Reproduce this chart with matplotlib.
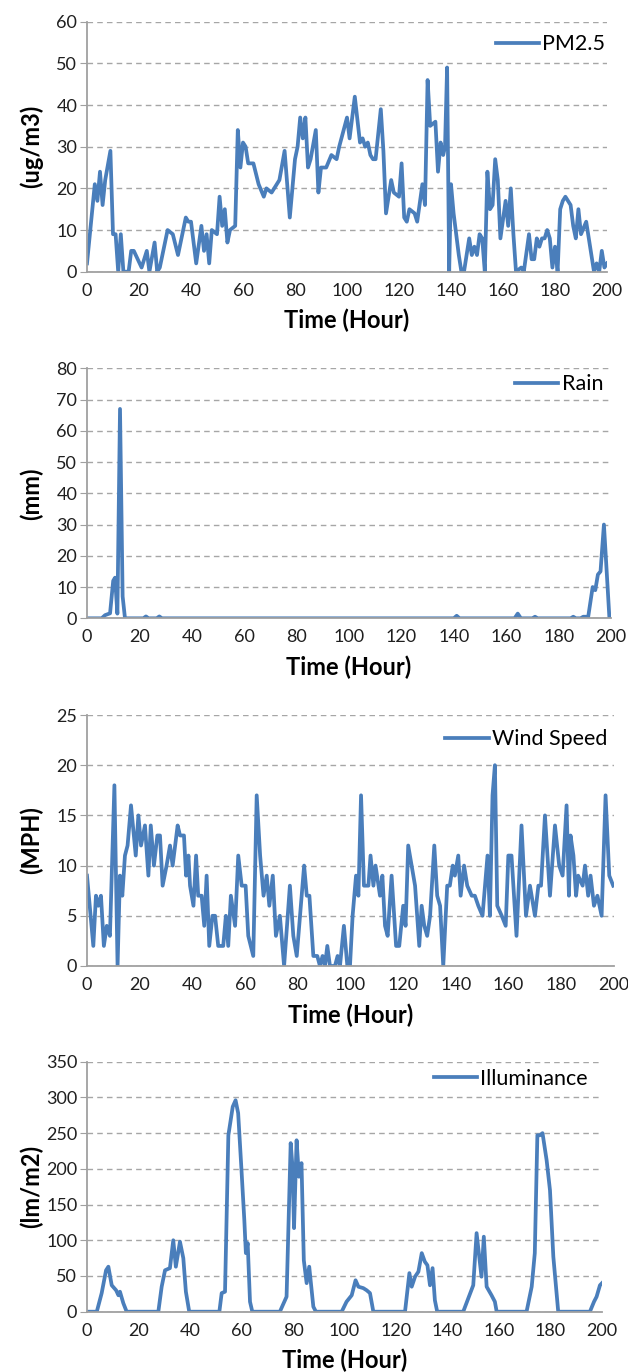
import matplotlib.pyplot as plt

plt.rcParams['font.family'] = ['Lato', 'DejaVu Sans']

# PM2.5 (ug/m3)
pm_hours = [0, 3, 4, 5, 6, 7, 9, 10, 11, 12, 13, 14, 16, 17, 18, 21, 23, 24, 26, 27, 28,
            31, 33, 35, 38, 39, 40, 42, 44, 45, 46, 47, 48, 50, 51, 52, 53, 54, 55, 57,
            58, 59, 60, 61, 62, 64, 66, 68, 69, 71, 73, 74, 76, 78, 80, 81, 82, 83, 84,
            85, 86, 88, 89, 90, 92, 94, 96, 97, 100, 101, 103, 105, 106, 107, 108, 109,
            110, 111, 113, 114, 115, 117, 118, 120, 121, 122, 123, 124, 126, 127, 129,
            130, 131, 132, 134, 135, 136, 137, 137.7, 138.5, 139.3, 140, 141, 143, 144, 145, 147,
            148, 149, 150, 151, 152, 153, 154, 155, 156, 157, 158, 159, 161, 162, 163,
            164, 165, 167, 168, 170, 171, 172, 173, 174, 175, 176, 177, 178, 179, 180,
            181, 182, 183, 184, 186, 187, 188, 189, 190, 192, 193, 195, 196, 197, 198,
            199, 200]
pm_vals = [2, 21, 17, 24, 16, 22, 29, 9, 9, 0, 9, 0, 0, 5, 5, 1, 5, 0, 7, 0, 1,
           10, 9, 4, 13, 12, 12, 2, 11, 5, 9, 2, 10, 9, 18, 11, 15, 7, 10, 11,
           34, 25, 31, 30, 26, 26, 21, 18, 20, 19, 21, 22, 29, 13, 27, 30, 37, 32, 37,
           25, 27, 34, 19, 25, 25, 28, 27, 30, 37, 32, 42, 31, 32, 30, 31, 28,
           27, 27, 39, 29, 14, 22, 19, 18, 26, 13, 12, 15, 14, 12, 21,
           16, 46, 35, 36, 24, 31, 28, 30, 49, 0, 21, 14, 4, 0, 0, 8,
           4, 6, 4, 9, 8, 0, 24, 15, 16, 27, 22, 8, 17, 11, 20,
           9, 0, 1, 0, 9, 3, 3, 8, 6, 8, 8, 10, 8, 1, 6,
           0, 15, 17, 18, 16, 11, 8, 15, 9, 12, 8, 0, 2, 0, 5,
           1, 2]

# Rain (mm)
rain_hours = [0, 5.6, 6.9, 8.8, 10.0, 10.7, 11.6, 12.6, 13.6, 14.5, 21.5, 22.5, 23.5,
              26.6, 27.6, 28.6, 140, 141.1, 142.2, 163.2, 164.4, 165.6, 170, 171, 172,
              184.6, 185.6, 186.6, 188.4, 189.4, 191.3, 193, 194, 195, 196, 197.3,
              199.4, 200]
rain_vals = [0, 0, 1, 1.6, 12, 13, 1.5, 67, 7, 0, 0, 0.6, 0,
             0, 0.6, 0, 0, 0.8, 0, 0, 1.5, 0, 0, 0.5, 0,
             0, 0.5, 0, 0, 0.5, 0.5, 10, 9, 14, 15, 30,
             0, 0]

# Wind speed (MPH)
wind_hours = [0, 2.4, 3.4, 4.3, 5.3, 6.4, 7.5, 8.7, 10.4, 11.6, 12.5, 13.4, 14.4, 15.4,
              16.7, 18.5, 19.5, 20.5, 22.0, 23.3, 24.2, 25.4, 26.7, 27.7, 28.7, 30.2,
              31.5, 32.5, 34.4, 35.3, 36.8, 37.6, 38.5, 39.1, 40.4, 41.4, 42.2, 43.5,
              44.5, 45.4, 46.4, 47.6, 48.6, 49.8, 51.7, 52.7, 53.6, 54.6, 56.2, 57.4,
              58.7, 60.2, 61.2, 63.1, 64.4, 65.7, 67.0, 68.2, 69.2, 70.5, 71.7, 73.2,
              74.8, 77.0, 78.3, 79.6, 82.4, 83.4, 84.4, 85.9, 87.4, 88.4, 89.4, 90.3,
              91.2, 92.2, 94.1, 95.1, 96.0, 97.5, 98.8, 99.8, 100.8, 102.1, 103.0,
              104.0, 105.1, 106.8, 107.6, 108.7, 109.5, 111.2, 112.1, 113.1, 114.1,
              115.6, 117.3, 118.5, 120.0, 120.9, 121.9, 123.2, 124.5, 126.1, 127.0,
              128.0, 129.1, 130.2, 131.8, 132.9, 134.0, 135.2, 136.7, 137.7, 138.8,
              139.6, 140.9, 141.8, 143.1, 144.3, 146.0, 147.2, 148.5, 150.1, 152.0,
              152.9, 153.9, 154.8, 155.7, 157.4, 158.9, 159.9, 161.1, 163.0, 164.9,
              166.6, 168.1, 170.0, 171.3, 172.3, 173.8, 175.7, 177.6, 179.2, 180.5,
              182.0, 182.9, 183.5, 184.6, 185.6, 186.4, 188.1, 189.0, 190.2, 191.1,
              192.4, 193.7, 195.3, 196.8, 198.2, 199.7]
wind_vals = [9, 2, 7, 6, 7, 2, 4, 3, 18, 0, 9, 7, 11, 12,
             16, 11, 15, 12, 14, 9, 14, 10, 13, 13, 8, 10,
             12, 10, 14, 13, 13, 9, 11, 8, 6, 11, 7, 7,
             4, 9, 2, 5, 5, 2, 2, 5, 2, 7, 4, 11,
             8, 8, 3, 1, 17, 11, 7, 9, 6, 9, 3, 5,
             0, 8, 3, 1, 10, 7, 7, 1, 1, 0, 1, 0,
             2, 0, 0, 1, 0, 4, 0, 0, 5, 9, 7,
             17, 8, 8, 11, 8, 10, 7, 9, 4, 3,
             9, 2, 2, 6, 4, 12, 10, 8, 2, 6,
             4, 3, 5, 12, 7, 6, 0, 8, 8, 10,
             9, 11, 7, 10, 8, 7, 7, 6, 5, 11,
             5, 17, 20, 6, 5, 4, 11, 11, 3, 14,
             5, 8, 5, 8, 8, 15, 7, 14, 10, 9,
             16, 7, 13, 11, 7, 9, 8, 10, 7, 9,
             6, 7, 5, 17, 9, 8]

# Illuminance (lm/m2)
lux_hours = [0, 3.8, 5.7, 7.4, 8.3, 9.6, 11.3, 12.2, 12.8, 14.1, 15.4,
             27.7, 29.0, 30.3, 32.2, 33.5, 34.5, 36.1, 37.4, 38.4, 39.7,
             51.4, 52.3, 53.6, 54.9, 56.6, 57.7, 58.7, 60.0, 61.1, 61.7, 62.4, 63.3, 64.2,
             74.9, 77.5, 79.1, 79.8, 80.4, 81.4, 82.3, 83.3, 84.2, 85.3, 86.3, 87.9, 88.9,
             98.9, 100.8, 102.8, 104.3, 105.4, 107.3, 108.6, 109.9, 111.2,
             123.5, 125.2, 126.1, 127.4, 128.7, 130.0, 131.2, 132.2, 133.2, 134.2, 135.1, 136.0,
             146.1, 148.1, 150.0, 151.3, 153.2, 154.1, 155.2, 157.1, 158.4, 159.1,
             170.7, 172.7, 173.9, 174.9, 175.9, 176.9, 178.5, 179.8, 181.1, 183.0,
             195.3, 196.9, 197.9, 199.2, 200]
lux_vals = [0, 0, 26, 58, 63, 37, 30, 23, 28, 12, 0,
            0, 35, 58, 61, 100, 63, 98, 75, 28, 0,
            0, 26, 28, 247, 287, 296, 278, 198, 128, 82, 96, 14, 0,
            0, 21, 236, 203, 117, 240, 189, 208, 72, 40, 63, 7, 0,
            0, 14, 23, 44, 35, 33, 30, 26, 0,
            0, 54, 35, 49, 56, 82, 70, 65, 37, 61, 16, 0,
            0, 19, 37, 110, 49, 105, 35, 23, 14, 0,
            0, 35, 82, 247, 247, 250, 212, 170, 77, 0,
            0, 14, 21, 37, 40]

blue = '#4a7ebb'
grid_c = '#a6a6a6'
W, H = 628, 1372

panels = [
    # hours, values, ymax, ystep, ylabel, legend, right px, top px, bottom px, legend x, legend y
    (pm_hours, pm_vals, 60, 10, '(ug/m3)', 'PM2.5', 607, 21.7, 271.7, 0.996, 0.91),
    (rain_hours, rain_vals, 80, 10, '(mm)', 'Rain', 611, 368.3, 618.3, 0.985, 0.937),
    (wind_hours, wind_vals, 25, 5, '(MPH)', 'Wind Speed', 614, 715, 966, 0.987, 0.904),
    (lux_hours, lux_vals, 350, 50, '(lm/m2)', 'Illuminance', 602, 1061.7, 1311.7, 0.973, 0.931),
]

fig = plt.figure(figsize=(6.28, 13.72), dpi=100)
for hrs, vals, ymax, ystep, ylab, leg, right, top, bottom, lx, ly in panels:
    left = 87
    ax = fig.add_axes([left / W, 1 - bottom / H, (right - left) / W, (bottom - top) / H])
    ax.plot(hrs, vals, color=blue, lw=2.7, label=leg, solid_joinstyle='round')
    ax.set_xlim(0, 200)
    ax.set_ylim(0, ymax)
    ax.set_xticks(range(0, 201, 20))
    ax.set_yticks(range(0, ymax + 1, ystep))
    ax.yaxis.grid(True, color=grid_c, ls=(0, (4, 3)), lw=1.0)
    ax.set_axisbelow(True)
    for s in ['top', 'right']:
        ax.spines[s].set_visible(False)
    for s in ['left', 'bottom']:
        ax.spines[s].set_color('#a0a0a0')
        ax.spines[s].set_linewidth(1.3)
    ax.tick_params(axis='y', length=5, color='#a0a0a0', labelsize=13, pad=2, labelcolor='#1f1f1f')
    ax.tick_params(axis='x', length=0, labelsize=13, pad=8, labelcolor='#1f1f1f')
    ax.set_xlabel('Time (Hour)', fontsize=17, fontweight='bold', va='center')
    ax.set_ylabel(ylab, fontsize=17, fontweight='bold', va='center')
    ax.yaxis.set_label_coords(-56 / (right - left), 0.5)
    ax.xaxis.set_label_coords(0.5, -49 / (bottom - top))
    ax.legend(loc='center right', bbox_to_anchor=(lx, ly), frameon=False, fontsize=15.5,
              handlelength=2.0, handletextpad=0.15, borderaxespad=0, borderpad=0)

fig.savefig('out.png', dpi=100)
